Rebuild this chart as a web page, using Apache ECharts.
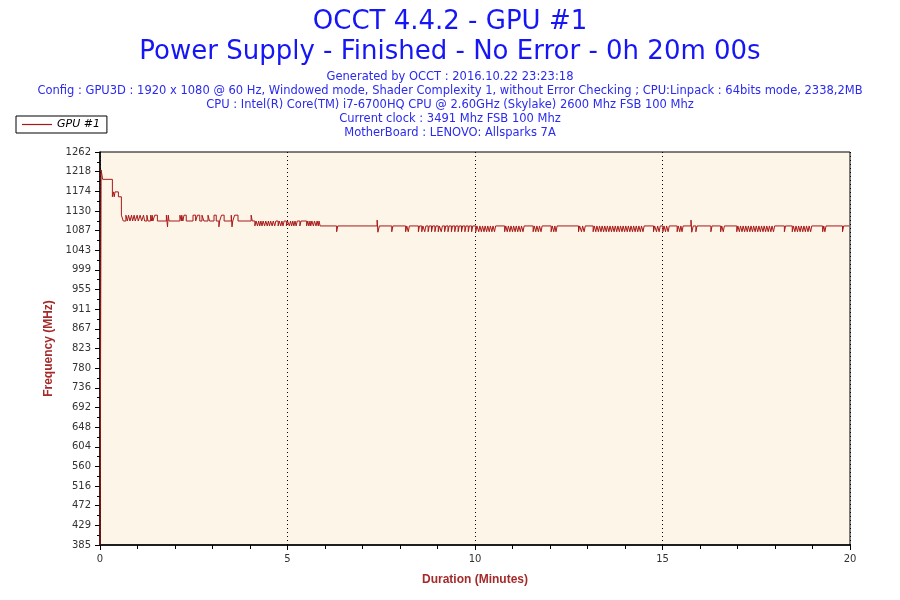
<!DOCTYPE html>
<html>
<head>
<meta charset="utf-8">
<title>OCCT GPU #1</title>
<script src="https://cdn.jsdelivr.net/npm/echarts@6/dist/echarts.min.js"></script>
<style>
	html,body{margin:0;padding:0;background:#fff;}
	#chart{width:900px;height:600px;}
</style>
</head>
<body>
<div id="chart"></div>
<script>
var titleLines = ['OCCT 4.4.2 - GPU #1', 'Power Supply - Finished - No Error - 0h 20m 00s'];
var infoLines = [
	'Generated by OCCT : 2016.10.22 23:23:18',
	'Config : GPU3D : 1920 x 1080 @ 60 Hz, Windowed mode, Shader Complexity 1, without Error Checking ; CPU:Linpack : 64bits mode, 2338,2MB',
	'CPU : Intel(R) Core(TM) i7-6700HQ CPU @ 2.60GHz (Skylake) 2600 Mhz FSB 100 Mhz',
	'Current clock : 3491 Mhz FSB 100 Mhz',
	'MotherBoard : LENOVO: Allsparks 7A'
];
var seriesName = 'GPU #1';
var yTickLabels = ['385','429','472','516','560','604','648','692','736','780','823','867','911','955','999','1043','1087','1130','1174','1218','1262'];
var xTicks = [0, 5, 10, 15, 20];

// [minutes, MHz]
var startPts = [
	[0,385],[0.03,1222],[0.07,1201],[0.33,1162],[0.36,1173],[0.38,1162],[0.40,1173],[0.49,1162],[0.57,1121]
];
// base 1108 with short jumps up to 1121
var highPts = [
	[0.62,1108],[0.69,1121],[0.73,1108],[0.76,1121],[0.80,1108],[0.84,1121],[0.87,1108],
	[0.91,1121],[0.94,1108],[0.99,1121],[1.02,1108],[1.07,1121],[1.11,1108],[1.16,1121],[1.19,1108],
	[1.25,1121],[1.28,1108],[1.35,1121],[1.38,1108],[1.39,1121],[1.41,1108],[1.46,1121],[1.53,1108],
	[1.77,1121],[1.80,1095],[1.82,1121],[1.84,1108],[2.13,1121],[2.17,1108],[2.18,1121],[2.21,1108],
	[2.24,1121],[2.30,1108],[2.48,1121],[2.55,1108],[2.60,1121],[2.66,1108],[2.72,1121],[2.77,1108],
	[2.88,1121],[2.92,1108],[3.04,1121],[3.10,1108],[3.17,1095],[3.19,1108],[3.24,1121],[3.31,1108],
	[3.50,1121],[3.52,1095],[3.54,1108],[3.59,1121],[3.68,1108],[4.03,1121],[4.06,1108]
];
// base 1108 with short dips
var midPts = [
	[4.13,1097],[4.16,1108],[4.20,1097],[4.23,1108],[4.26,1097],[4.29,1108],[4.32,1097],[4.35,1108],
	[4.39,1097],[4.42,1108],[4.46,1097],[4.49,1108],[4.52,1097],[4.55,1108],[4.59,1097],[4.62,1108],
	[4.66,1097],[4.69,1108],[4.75,1097],[4.78,1108],[4.82,1097],[4.85,1108],[4.88,1097],[4.91,1108],
	[4.97,1097],[5.00,1108],[5.05,1097],[5.08,1108],[5.11,1097],[5.14,1108],[5.17,1097],[5.20,1108],
	[5.23,1097],[5.26,1108],[5.33,1097],[5.36,1108],[5.51,1097],[5.54,1108],[5.57,1097],[5.60,1108],
	[5.62,1097],[5.65,1108],[5.69,1097],[5.72,1108],[5.76,1097],[5.79,1108],[5.82,1097],[5.84,1108]
];
// base 1097 with short dips to 1084
var lowPts = [
	[5.87,1097],[6.31,1084],[6.34,1097],[7.39,1110],[7.41,1083],[7.45,1097],[7.78,1084],[7.81,1097],
	[8.15,1084],[8.18,1097],[8.22,1084],[8.25,1097],
	[8.49,1084],[8.52,1097],[8.58,1084],[8.61,1097],[8.66,1084],[8.69,1097],[8.75,1084],[8.78,1097],
	[8.84,1084],[8.87,1097],[8.93,1084],[8.96,1097],[9.02,1084],[9.05,1097],[9.10,1084],[9.13,1097],
	[9.19,1084],[9.22,1097],[9.28,1084],[9.31,1097],[9.37,1084],[9.40,1097],[9.46,1084],[9.49,1097],
	[9.55,1084],[9.58,1097],[9.64,1084],[9.67,1097],[9.73,1084],[9.76,1097],[9.82,1084],[9.85,1097],
	[9.91,1084],[9.94,1097],[10.02,1084],[10.05,1097],[10.10,1084],[10.13,1097],[10.17,1084],[10.20,1097],
	[10.24,1084],[10.27,1097],[10.31,1084],[10.34,1097],[10.38,1084],[10.41,1097],[10.45,1084],[10.48,1097],
	[10.52,1084],[10.55,1097],[10.79,1084],[10.82,1097],[10.86,1084],[10.89,1097],[10.93,1084],[10.96,1097],
	[11.00,1084],[11.03,1097],[11.07,1084],[11.10,1097],[11.14,1084],[11.17,1097],[11.21,1084],[11.24,1097],
	[11.28,1084],[11.31,1097],[11.55,1084],[11.58,1097],[11.62,1084],[11.65,1097],[11.69,1084],[11.72,1097],
	[11.76,1084],[11.79,1097],[12.03,1084],[12.06,1097],[12.10,1084],[12.13,1097],[12.16,1084],[12.19,1097],
	[12.76,1084],[12.79,1097],[12.84,1084],[12.87,1097],[12.91,1084],[12.94,1097],
	[13.15,1084],[13.18,1097],[13.22,1084],[13.25,1097],[13.29,1084],[13.32,1097],[13.36,1084],[13.39,1097],
	[13.43,1084],[13.46,1097],[13.50,1084],[13.53,1097],[13.57,1084],[13.60,1097],[13.64,1084],[13.67,1097],
	[13.71,1084],[13.74,1097],[13.78,1084],[13.81,1097],[13.85,1084],[13.88,1097],[13.92,1084],[13.95,1097],
	[13.99,1084],[14.02,1097],[14.06,1084],[14.09,1097],[14.13,1084],[14.16,1097],[14.20,1084],[14.23,1097],
	[14.27,1084],[14.30,1097],[14.34,1084],[14.37,1097],[14.41,1084],[14.44,1097],[14.48,1084],[14.51,1097],
	[14.76,1084],[14.79,1097],[14.84,1084],[14.87,1097],[14.91,1084],[14.94,1097],[15.01,1084],[15.04,1097],
	[15.08,1084],[15.11,1097],[15.15,1084],[15.18,1097],[15.39,1084],[15.42,1097],[15.46,1084],[15.49,1097],
	[15.52,1084],[15.55,1097],[15.76,1110],[15.78,1083],[15.82,1097],[15.89,1084],[15.92,1097],
	[16.29,1084],[16.32,1097],[16.55,1084],[16.58,1097],[16.62,1084],[16.65,1097],
	[16.98,1084],[17.01,1097],[17.05,1084],[17.08,1097],[17.12,1084],[17.15,1097],[17.19,1084],[17.22,1097],
	[17.26,1084],[17.29,1097],[17.33,1084],[17.36,1097],[17.40,1084],[17.43,1097],[17.47,1084],[17.50,1097],
	[17.54,1084],[17.57,1097],[17.61,1084],[17.64,1097],[17.68,1084],[17.71,1097],[17.75,1084],[17.78,1097],
	[17.82,1084],[17.85,1097],[17.89,1084],[17.92,1097],[17.96,1084],[17.99,1097],
	[18.25,1084],[18.28,1097],[18.46,1084],[18.49,1097],[18.53,1084],[18.56,1097],[18.60,1084],[18.63,1097],
	[18.67,1084],[18.70,1097],[18.74,1084],[18.77,1097],[18.81,1084],[18.84,1097],[18.88,1084],[18.91,1097],
	[18.95,1084],[18.98,1097],[19.27,1084],[19.30,1097],[19.33,1084],[19.36,1097],[19.80,1084],[19.83,1097],
	[19.98,1097]
];

var chart = echarts.init(document.getElementById('chart'), null, {renderer: 'canvas'});
var allPts = startPts.concat(highPts, midPts, lowPts);

var option = {
	backgroundColor: '#ffffff',
	animation: false,
	title: [{
		text: titleLines.join('\n'),
		left: 'center',
		top: 7,
		padding: 0,
		textStyle: {fontFamily: 'DejaVu Sans', fontSize: 26, lineHeight: 30, fontWeight: 'normal', color: '#1515f5'}
	}, {
		text: infoLines.join('\n'),
		left: 'center',
		top: 70,
		padding: 0,
		textStyle: {fontFamily: 'DejaVu Sans', fontSize: 11.5, lineHeight: 14, fontWeight: 'normal', color: '#2a2af0'}
	}],
	legend: {
		left: 16,
		top: 116,
		orient: 'vertical',
		padding: [3, 7, 3, 6],
		borderColor: '#000',
		borderWidth: 1,
		itemWidth: 30,
		itemHeight: 1.2,
		itemGap: 0,
		data: [{name: seriesName, icon: 'rect'}],
		textStyle: {fontFamily: 'DejaVu Sans', fontSize: 11, fontStyle: 'italic', color: '#000'}
	},
	grid: {
		left: 100, right: 50, top: 152, bottom: 55,
		show: true,
		backgroundColor: '#fdf6e8',
		borderColor: '#000',
		borderWidth: 1
	},
	xAxis: {
		type: 'value',
		min: xTicks[0],
		max: xTicks[xTicks.length - 1],
		interval: 5,
		name: 'Duration (Minutes)',
		nameLocation: 'middle',
		nameGap: 29,
		nameTextStyle: {fontFamily: 'Liberation Sans', fontSize: 12, fontWeight: 'bold', color: '#a52a2a'},
		axisLine: {lineStyle: {color: '#000', width: 1.5}},
		axisTick: {length: 5, lineStyle: {color: '#000'}},
		minorTick: {show: true, splitNumber: 5, length: 4, lineStyle: {color: '#000'}},
		axisLabel: {fontFamily: 'DejaVu Sans', fontSize: 10, color: '#333', margin: 9},
		splitLine: {show: true, lineStyle: {color: '#000', type: [1, 3], width: 1}}
	},
	yAxis: [{
		type: 'value',
		min: 385,
		max: 1262,
		show: false
	}, {
		type: 'value',
		min: 0,
		max: yTickLabels.length - 1,
		interval: 1,
		position: 'left',
		name: 'Frequency (MHz)',
		nameLocation: 'middle',
		nameRotate: 90,
		nameGap: 43,
		nameTextStyle: {fontFamily: 'Liberation Sans', fontSize: 12, fontWeight: 'bold', color: '#a52a2a'},
		axisLine: {show: true, lineStyle: {color: '#000', width: 1.5}},
		axisTick: {show: true, length: 5, lineStyle: {color: '#000'}},
		minorTick: {show: true, splitNumber: 2, length: 3, lineStyle: {color: '#000'}},
		axisLabel: {
			fontFamily: 'DejaVu Sans', fontSize: 10, color: '#333', margin: 9,
			formatter: function(v){ return yTickLabels[Math.round(v)]; }
		},
		splitLine: {show: false}
	}],
	series: [{
		name: seriesName,
		type: 'line',
		yAxisIndex: 0,
		step: 'end',
		symbol: 'none',
		clip: true,
		data: allPts,
		lineStyle: {color: '#a81818', width: 1},
		itemStyle: {color: '#a81818'}
	}]
};
chart.setOption(option);
</script>
</body>
</html>
